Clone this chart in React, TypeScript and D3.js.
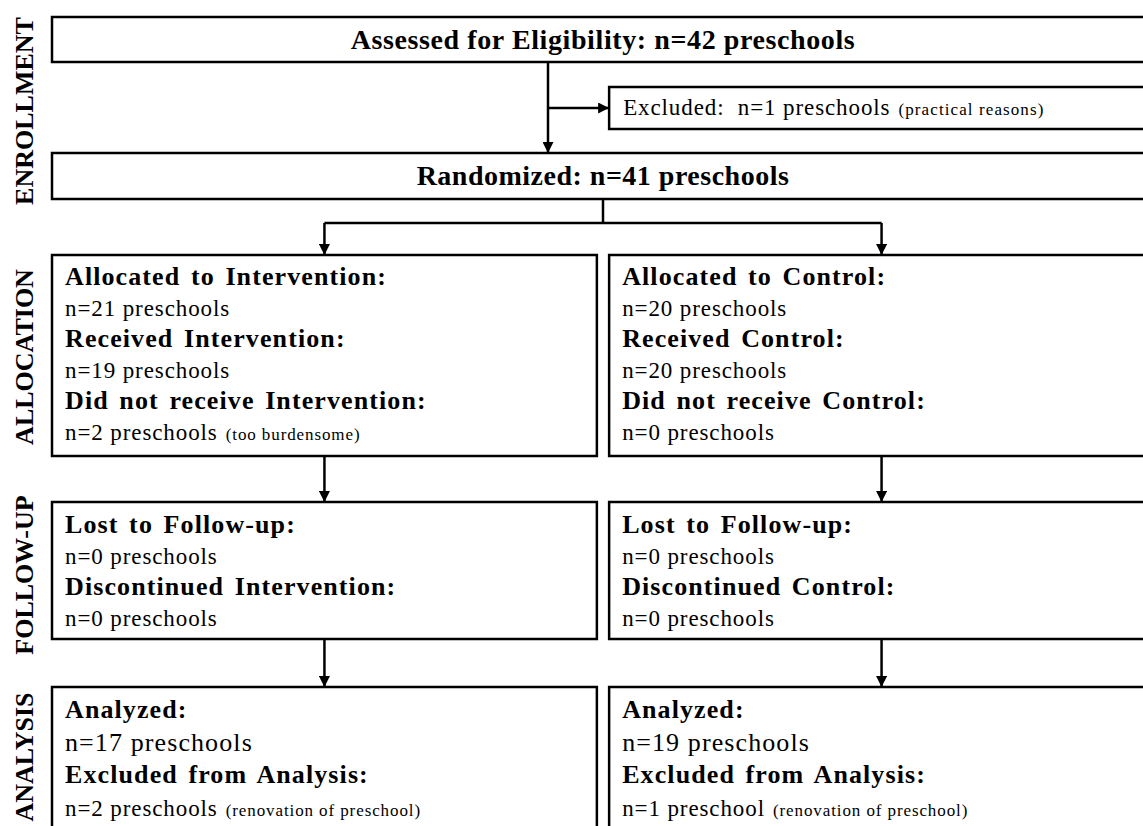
import * as d3 from 'd3';

const W = 1143;
const H = 826;

// flow data
const sections = ['ENROLLMENT', 'ALLOCATION', 'FOLLOW-UP', 'ANALYSIS'];
const arms = ['Intervention', 'Control'];
const assessed = 42;
const excludedEnroll = 1;
const excludedEnrollReason = 'practical reasons';
const randomized = 41;
const allocated = [21, 20];
const received = [19, 20];
const notReceived = [2, 0];
const notReceivedReason = ['too burdensome', ''];
const lost = [0, 0];
const discontinued = [0, 0];
const analyzed = [17, 19];
const excludedAnalysis = [2, 1];
const excludedAnalysisReason = ['renovation of preschool', 'renovation of preschool'];

const FONT = '"Liberation Serif", "Times New Roman", serif';
const SW = 2.5;
const INK = '#000';

type Line = { text: string; bold?: boolean; note?: string; big?: boolean };

const unit = (n: number, plural = true) => (n === 1 && !plural ? 'preschool' : 'preschools');

const allocationLines = (i: number): Line[] => [
  { text: `Allocated to ${arms[i]}:`, bold: true },
  { text: `n=${allocated[i]} ${unit(allocated[i])}` },
  { text: `Received ${arms[i]}:`, bold: true },
  { text: `n=${received[i]} ${unit(received[i])}` },
  { text: `Did not receive ${arms[i]}:`, bold: true },
  { text: `n=${notReceived[i]} ${unit(notReceived[i])}`, note: notReceivedReason[i] },
];

const followLines = (i: number): Line[] => [
  { text: 'Lost to Follow-up:', bold: true },
  { text: `n=${lost[i]} ${unit(lost[i])}` },
  { text: `Discontinued ${arms[i]}:`, bold: true },
  { text: `n=${discontinued[i]} ${unit(discontinued[i])}` },
];

const analysisLines = (i: number): Line[] => [
  { text: 'Analyzed:', bold: true },
  { text: `n=${analyzed[i]} ${unit(analyzed[i])}`, big: true },
  { text: 'Excluded from Analysis:', bold: true },
  { text: `n=${excludedAnalysis[i]} ${unit(excludedAnalysis[i], false)}`, note: excludedAnalysisReason[i] },
];

// layout
const x = d3.scaleBand<string>().domain(arms).range([52, 1154]).paddingInner(0.022);
const full = { x0: 52, x1: 1154 };
const rows = {
  assessed: [17, 62],
  excluded: [87, 129],
  randomized: [153, 199],
  branch: 223,
  allocation: [255, 456],
  follow: [502, 639],
  analysis: [687, 880],
};
const sectionY = d3.scaleOrdinal<string, number>().domain(sections).range([111, 357, 575, 757]);

const line = d3.line<[number, number]>();

function TextBlock({ lines, x0, y0, step }: { lines: Line[]; x0: number; y0: number; step: number }) {
  return (
    <g>
      {lines.map((l, k) => (
        <text
          key={k}
          x={x0}
          y={y0 + k * step}
          fontFamily={FONT}
          fontWeight={l.bold ? 700 : 400}
          fontSize={l.bold ? 26 : l.big ? 26 : 23}
          letterSpacing={l.bold ? 1.1 : l.big ? 1.1 : 0.9}
          wordSpacing={l.bold ? 3 : 0}
          fill={INK}
        >
          {l.text}
          {l.note ? (
            <tspan fontSize={17} letterSpacing={0.9} dx={8}>
              ({l.note})
            </tspan>
          ) : null}
        </text>
      ))}
    </g>
  );
}

export default function App() {
  const cx = arms.map((a) => (x(a) ?? 0) + x.bandwidth() / 2);
  const splitX = 548;
  const midX = (full.x0 + full.x1) / 2;
  const exMid = (rows.excluded[0] + rows.excluded[1]) / 2;

  const arrows: [number, number][][] = [
    [
      [splitX, rows.assessed[1]],
      [splitX, rows.randomized[0]],
    ],
    [
      [splitX, exMid],
      [x('Control') ?? 0, exMid],
    ],
    ...cx.map((c) => [
      [c, rows.branch],
      [c, rows.allocation[0]],
    ] as [number, number][]),
    ...cx.map((c) => [
      [c, rows.allocation[1]],
      [c, rows.follow[0]],
    ] as [number, number][]),
    ...cx.map((c) => [
      [c, rows.follow[1]],
      [c, rows.analysis[0]],
    ] as [number, number][]),
  ];

  const plain: [number, number][][] = [
    [
      [midX, rows.randomized[1]],
      [midX, rows.branch],
    ],
    [
      [cx[0], rows.branch],
      [cx[1], rows.branch],
    ],
  ];

  const box = (x0: number, x1: number, y: number[], key: string) => (
    <rect key={key} x={x0} y={y[0]} width={x1 - x0} height={y[1] - y[0]} fill="#fff" stroke={INK} strokeWidth={SW} />
  );

  return (
    <svg width={W} height={H} style={{ position: 'absolute', left: 0, top: 0, background: '#fff' }}>
      <defs>
        <marker
          id="head"
          viewBox="0 0 10 10"
          refX={10}
          refY={5}
          markerWidth={11}
          markerHeight={11}
          markerUnits="userSpaceOnUse"
          orient="auto"
        >
          <path d="M0,0L10,5L0,10z" fill={INK} />
        </marker>
      </defs>

      {sections.map((s) => (
        <text
          key={s}
          transform={`translate(33,${sectionY(s)}) rotate(-90)`}
          textAnchor="middle"
          fontFamily={FONT}
          fontWeight={700}
          fontSize={26}
          fill={INK}
        >
          {s}
        </text>
      ))}

      {plain.map((p, k) => (
        <path key={`p${k}`} d={line(p) ?? ''} stroke={INK} strokeWidth={SW} fill="none" />
      ))}
      {arrows.map((p, k) => (
        <path key={`a${k}`} d={line(p) ?? ''} stroke={INK} strokeWidth={SW} fill="none" markerEnd="url(#head)" />
      ))}

      {box(full.x0, full.x1, rows.assessed, 'assessed')}
      <text
        x={midX}
        y={49}
        textAnchor="middle"
        fontFamily={FONT}
        fontWeight={700}
        fontSize={28}
        letterSpacing={0.6}
        fill={INK}
      >
        {`Assessed for Eligibility: n=${assessed} preschools`}
      </text>

      {box(x('Control') ?? 0, full.x1, rows.excluded, 'excluded')}
      <text
        x={(x('Control') ?? 0) + 14}
        y={115}
        fontFamily={FONT}
        fontSize={23}
        letterSpacing={0.9}
        fill={INK}
        style={{ whiteSpace: 'pre' }}
      >
        {`Excluded:  n=${excludedEnroll} preschools`}
        <tspan fontSize={17} letterSpacing={1.1} dx={8}>
          ({excludedEnrollReason})
        </tspan>
      </text>

      {box(full.x0, full.x1, rows.randomized, 'randomized')}
      <text
        x={midX}
        y={185}
        textAnchor="middle"
        fontFamily={FONT}
        fontWeight={700}
        fontSize={28}
        letterSpacing={0.5}
        fill={INK}
      >
        {`Randomized: n=${randomized} preschools`}
      </text>

      {arms.map((a, i) => {
        const x0 = x(a) ?? 0;
        const x1 = i === 1 ? full.x1 : x0 + x.bandwidth();
        return (
          <g key={a}>
            {box(x0, x1, rows.allocation, `al${i}`)}
            <TextBlock lines={allocationLines(i)} x0={x0 + 13} y0={rows.allocation[0] + 30} step={31} />
            {box(x0, x1, rows.follow, `fu${i}`)}
            <TextBlock lines={followLines(i)} x0={x0 + 13} y0={rows.follow[0] + 31} step={31} />
            {box(x0, x1, rows.analysis, `an${i}`)}
            <TextBlock lines={analysisLines(i)} x0={x0 + 13} y0={rows.analysis[0] + 31} step={32.5} />
          </g>
        );
      })}
    </svg>
  );
}
